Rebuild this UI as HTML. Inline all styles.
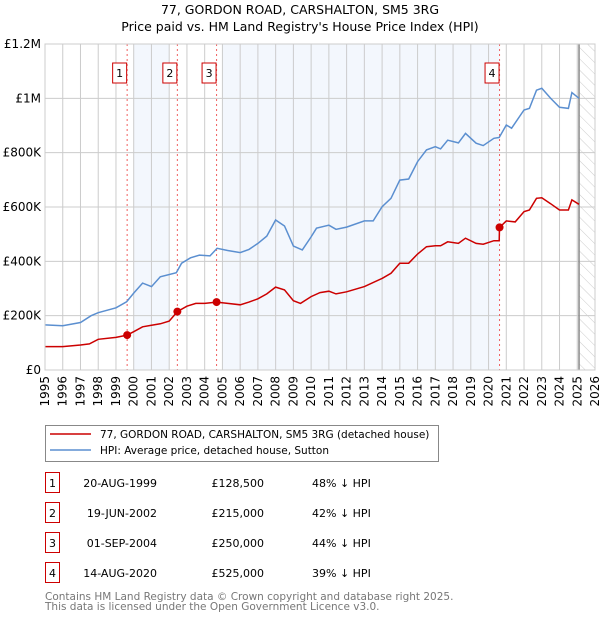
<!DOCTYPE html>
<html><head><meta charset="utf-8"><style>
body{margin:0;background:#fff;width:600px;height:620px;overflow:hidden;font-family:"Liberation Sans","DejaVu Sans",sans-serif}
svg text{font-family:"DejaVu Sans","Liberation Sans",sans-serif}
</style></head><body>
<svg id="c" width="600" height="620"></svg>
<script>
const hpiYears=[1995,1996,1997,1997.6,1998,1999,1999.6,2000,2000.5,2001,2001.5,2002.4,2002.7,2003.2,2003.7,2004.3,2004.7,2005.3,2006,2006.5,2007,2007.5,2008,2008.5,2009,2009.5,2010,2010.3,2011,2011.4,2012,2013,2013.5,2014,2014.5,2015,2015.5,2016,2016.5,2017,2017.3,2017.7,2018.3,2018.7,2019.3,2019.7,2020.3,2020.6,2021,2021.3,2022,2022.3,2022.7,2023,2023.5,2024,2024.5,2024.7,2025.1];
const hpiValues=[166,163,175,200,211,229,251,283,320,307,343,358,393,413,423,420,448,440,432,444,466,493,552,530,456,442,490,522,533,518,526,549,549,601,632,699,703,767,810,822,814,846,836,871,835,826,853,856,902,890,957,963,1030,1037,1000,967,963,1021,1000];
const priceYears=[1995,1996,1997,1997.5,1998,1999,1999.63,2000,2000.5,2001,2001.5,2002,2002.46,2003,2003.5,2004,2004.67,2005.3,2006,2006.5,2007,2007.5,2008,2008.5,2009,2009.4,2010,2010.5,2011,2011.4,2012,2013,2014,2014.5,2015,2015.5,2016,2016.5,2017,2017.3,2017.7,2018.3,2018.7,2019.3,2019.7,2020.3,2020.6,2020.62,2021,2021.5,2022,2022.3,2022.7,2023,2023.5,2024,2024.5,2024.7,2025.1];
const priceValues=[86,86,92,96,113,120,128.5,141,159,165,170,180,215,235,245,245,250,245,240,250,262,280,305,295,255,245,270,285,290,280,288,307,337,356,393,393,427,454,457,457,472,466,485,466,463,476,476,525,549,545,583,589,632,634,612,589,589,626,610];
const saleYears=[1999.63,2002.46,2004.67,2020.62];
const saleValues=[128.5,215,250,525];
const saleLabels=["1","2","3","4"];
const yTicks=[0,200,400,600,800,1000,1200];
const yTickLabels=["£0","£200K","£400K","£600K","£800K","£1M","£1.2M"];
const xTicks=[1995,1996,1997,1998,1999,2000,2001,2002,2003,2004,2005,2006,2007,2008,2009,2010,2011,2012,2013,2014,2015,2016,2017,2018,2019,2020,2021,2022,2023,2024,2025,2026];
const NS="http://www.w3.org/2000/svg";
const svg=document.getElementById('c');
const X0=45,X1=595,Y0=370,Y1=44;
const xs=y=>X0+(y-1995)/31*(X1-X0);
const ys=v=>Y0-v/1200*(Y0-Y1);
function el(t,a,p){const e=document.createElementNS(NS,t);for(const k in a)e.setAttribute(k,a[k]);(p||svg).appendChild(e);return e;}
const defs=el('defs',{});
const pat=el('pattern',{id:'h',width:8,height:8,patternUnits:'userSpaceOnUse',patternTransform:'rotate(-45)'},defs);
el('line',{x1:0,y1:0,x2:0,y2:8,stroke:'#ccc','stroke-width':1},pat);
let t=el('text',{x:300,y:14,'text-anchor':'middle','font-size':'12.5'});t.textContent="77, GORDON ROAD, CARSHALTON, SM5 3RG";


t=el('text',{x:300,y:31,'text-anchor':'middle','font-size':'12.5'});t.textContent="Price paid vs. HM Land Registry's House Price Index (HPI)";


let b=el('rect',{x:xs(2000),y:Y1,width:xs(2002)-xs(2000),height:Y0-Y1,fill:'#eef3fc',opacity:0.7});


b=el('rect',{x:xs(2005),y:Y1,width:xs(2020.62)-xs(2005),height:Y0-Y1,fill:'#eef3fc',opacity:0.7});


b=el('rect',{x:xs(2025.1),y:Y1,width:X1-xs(2025.1),height:Y0-Y1,fill:'url(#h)'});


yTicks.forEach((v,i)=>{
 const l=el('line',{x1:X0,x2:X1,y1:ys(v),y2:ys(v),stroke:'#ccc'});
 
 
 const tx=el('text',{x:X0-4,y:ys(v)+4,'text-anchor':'end','font-size':'12'});tx.textContent=yTickLabels[i];
 
 
});
xTicks.forEach(y=>{
 const l=el('line',{x1:xs(y),x2:xs(y),y1:Y1,y2:Y0,stroke:'#ccc'});
 
 
 const tx=el('text',{x:0,y:0,'text-anchor':'end','font-size':'12',transform:`translate(${xs(y)+4},${Y0+6}) rotate(-90)`});tx.textContent=y;
 
 
});
let ln=el('line',{x1:xs(2025.1),x2:xs(2025.1),y1:Y1,y2:Y0,stroke:'#888','stroke-width':1.5});


saleYears.forEach((y,i)=>{
 const l=el('line',{x1:xs(y),x2:xs(y),y1:Y1,y2:Y0,stroke:'#f06060','stroke-dasharray':'2,3'});
 
 
 const r=el('rect',{x:xs(y)-14.5,y:63,width:14,height:20,fill:'#fff',stroke:'#c00'});
 
 
 const tx=el('text',{x:xs(y)-7.5,y:77,'text-anchor':'middle','font-size':'11'});tx.textContent=saleLabels[i];
 
 
});
function pts(xa,va){return xa.map((y,i)=>xs(y).toFixed(1)+','+ys(va[i]).toFixed(1)).join(' ');}
let p=el('polyline',{points:pts(hpiYears,hpiValues),fill:'none',stroke:'#5b8fd0','stroke-width':1.5});


p=el('polyline',{points:pts(priceYears,priceValues),fill:'none',stroke:'#cc0000','stroke-width':1.5});


saleYears.forEach((y,i)=>{
 const c=el('circle',{cx:xs(y),cy:ys(saleValues[i]),r:4,fill:'#cc0000'});
 
 
});
let fr=el('rect',{x:X0,y:Y1,width:X1-X0,height:Y0-Y1,fill:'none',stroke:'#ccc'});


const lg=el('g',{});


el('rect',{x:45.5,y:425.5,width:393,height:36,fill:'#fff',stroke:'#888'},lg);
el('line',{x1:50,x2:91,y1:434,y2:434,stroke:'#cc0000','stroke-width':1.5},lg);
el('line',{x1:50,x2:91,y1:450,y2:450,stroke:'#5b8fd0','stroke-width':1.5},lg);
t=el('text',{x:100,y:438,'font-size':'10.5'},lg);t.textContent="77, GORDON ROAD, CARSHALTON, SM5 3RG (detached house)";


t=el('text',{x:100,y:454,'font-size':'10.5'},lg);t.textContent="HPI: Average price, detached house, Sutton";


const dates=["20-AUG-1999","19-JUN-2002","01-SEP-2004","14-AUG-2020"];
const prices=["£128,500","£215,000","£250,000","£525,000"];
const hpis=["48% ↓ HPI","42% ↓ HPI","44% ↓ HPI","39% ↓ HPI"];
dates.forEach((d,i)=>{
 const cy=483+i*30;
 const g=el('g',{});
 
 
 el('rect',{x:45.5,y:cy-10.5,width:14,height:20,fill:'#fff',stroke:'#c00'},g);
 let tx=el('text',{x:52.5,y:cy+4,'text-anchor':'middle','font-size':'11'},g);tx.textContent=saleLabels[i];
 tx=el('text',{x:157,y:cy+4,'text-anchor':'end','font-size':'11'},g);tx.textContent=d;
 tx=el('text',{x:264,y:cy+4,'text-anchor':'end','font-size':'11'},g);tx.textContent=prices[i];
 tx=el('text',{x:312,y:cy+4,'font-size':'11'},g);tx.textContent=hpis[i];
});
t=el('text',{x:45,y:600,'font-size':'10.5',fill:'#777'});t.textContent="Contains HM Land Registry data © Crown copyright and database right 2025.";


t=el('text',{x:45,y:610,'font-size':'10.5',fill:'#777'});t.textContent="This data is licensed under the Open Government Licence v3.0.";


</script>
</body></html>
